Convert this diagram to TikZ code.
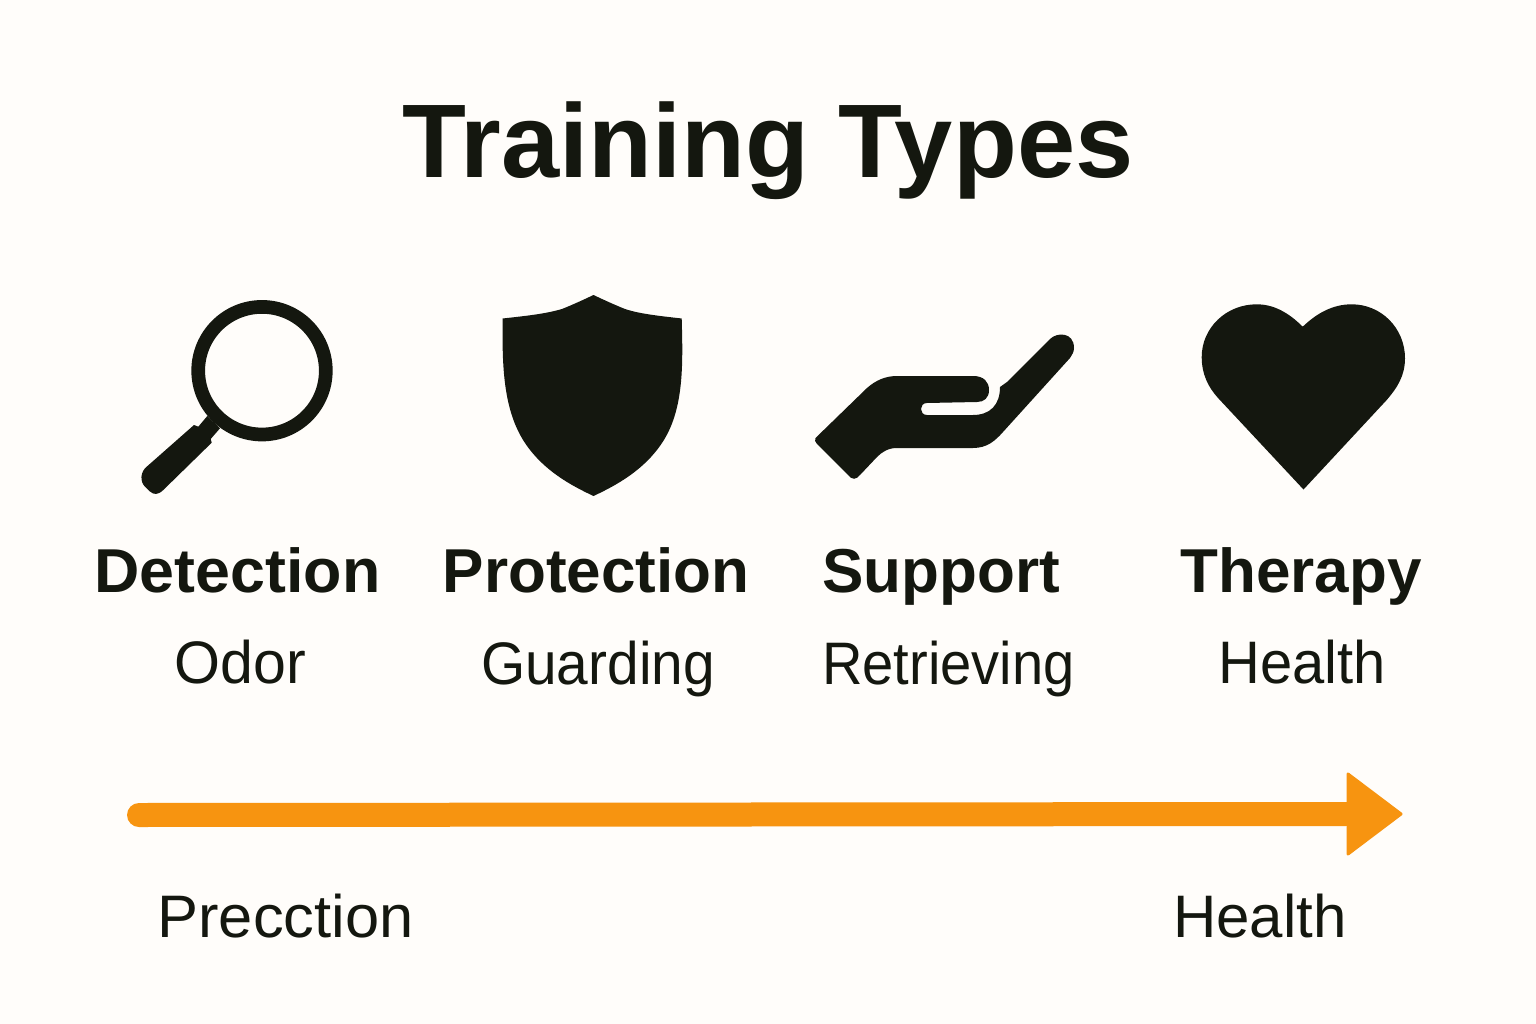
\documentclass[tikz,border=0pt]{standalone}
\usepackage{fontspec}
\setmainfont{Liberation Sans}
\definecolor{ink}{HTML}{14170F}
\definecolor{paper}{HTML}{FFFDFA}
\definecolor{amber}{HTML}{F79410}
\tikzset{
  title/.style={font=\fontsize{104.6}{110}\selectfont\bfseries,text=ink,inner sep=0pt,anchor=base},
  head/.style={font=\fontsize{62}{68}\selectfont\bfseries,text=ink,inner sep=0pt,anchor=base},
  sub/.style={font=\fontsize{60}{66}\selectfont,text=ink,inner sep=0pt,anchor=base},
  icon/.style={fill=ink,draw=none},
  flow/.style={line width=24pt,draw=amber,line cap=round}
}
\begin{document}
\begin{tikzpicture}[x=1pt,y=-1pt]
\useasboundingbox (0,0) rectangle (1536,1024);
\fill[paper] (0,0) rectangle (1536,1024);
\node[title] (t) at (768,178) {Training Types};
% magnifier
\draw[ink,line width=13.7pt] (262,370.7) circle (63.8);
\fill[icon] (207.3,416) -- (220,428.3) -- (210.7,439) -- (211.7,442.7) -- (163.3,490) .. controls (158,495) and (154,495) .. (150,491.5) -- (145,486.7) .. controls (140,482) and (140,472) .. (146.7,466.7) -- (194,425) -- (198.3,426.7) -- cycle;
% shield
\fill[icon] (593.5,295) .. controls (583,300) and (572,305) .. (562,309) .. controls (545,314) and (525,316) .. (502.7,318.5) .. controls (502,365) and (503,410) .. (525,443) .. controls (543,470) and (570,485) .. (593.5,496) .. controls (617,485) and (644,470) .. (662,443) .. controls (684,410) and (683,365) .. (681.7,318.5) .. controls (660,316) and (640,314) .. (625,309) .. controls (615,305) and (604,300) .. (593.5,295) -- cycle;
% hand
\fill[icon] (815.5,438) -- (867,388) .. controls (876,380) and (886,376) .. (897,376) -- (973,376) .. controls (984,376) and (989,382) .. (989,390) .. controls (989,398) and (984,402) .. (977,402) -- (927,403) .. controls (919,403) and (919,415) .. (927,415) -- (973,415) .. controls (990,415) and (1000,405) .. (1000,387) -- (1007,382) -- (1050,339) .. controls (1057,332) and (1074,332) .. (1074,348) .. controls (1074,352) and (1072,355) .. (1070,358) -- (1003,432) .. controls (995,441) and (987,448) .. (973,448) -- (897,448) .. controls (888,448) and (882,452) .. (877,457) -- (860,475) .. controls (856,480) and (852,480) .. (848,475) -- (817,444) .. controls (815,442) and (814.5,440) .. (815.5,438) -- cycle;
% heart
\fill[icon] (1302.7,326.7) .. controls (1288,312) and (1273,304.3) .. (1256.7,304.3) .. controls (1226,304.3) and (1201.7,328) .. (1201.7,357) .. controls (1201.7,374) and (1208,387) .. (1218.3,398.3) -- (1303.5,489.5) -- (1386.7,400) .. controls (1397,388) and (1405,376) .. (1405,358.3) .. controls (1405,328) and (1381,304.3) .. (1351.7,304.3) .. controls (1333,304.3) and (1317,313) .. (1302.7,326.7) -- cycle;
% labels
\node[head] (h1) at (237.5,592) {\scalebox{1.012}[1]{Detection}};
\node[head] (h2) at (596,592) {Protection};
\node[head] (h3) at (941,592) {Support};
\node[head] (h4) at (1301,592) {Therapy};
\node[sub] (s1) at (240,683) {\scalebox{0.985}[1]{Odor}};
\node[sub] (s2) at (598,684) {\scalebox{0.947}[1]{Guarding}};
\node[sub] (s3) at (948.5,684) {\scalebox{0.935}[1]{Retrieving}};
\node[sub] (s4) at (1302,683) {\scalebox{0.965}[1]{Health}};
% arrow
\coordinate (a) at (139,815);
\coordinate (b) at (1346,814);
\draw[flow] (a) -- (b);
\fill[amber,draw=amber,line width=3pt,line join=round] (1348,774) -- (1401,814) -- (1348,854) -- cycle;
\node[sub] (l) at (285.5,937) {\scalebox{1.024}[1]{Precction}};
\node[sub] (r) at (1260,937) {Health};
\end{tikzpicture}
\end{document}
